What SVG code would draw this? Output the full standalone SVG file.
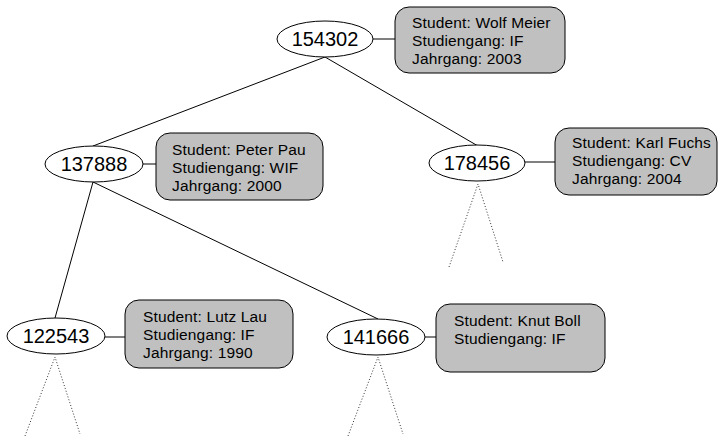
<svg xmlns="http://www.w3.org/2000/svg" width="720" height="439" viewBox="0 0 720 439">
<style>
.n ellipse{fill:#fff;stroke:#000;stroke-width:1}
.n text.k{font-family:"Liberation Sans",Arial,sans-serif;font-size:20px;text-anchor:middle}
.b{fill:#c0c0c0;stroke:#000;stroke-width:1}
.t{font-family:"Liberation Sans",Arial,sans-serif;font-size:15.5px;letter-spacing:0.15px;fill:#000}
.e{stroke:#000;stroke-width:1;fill:none}
.d{stroke:#333;stroke-width:1;fill:none;stroke-dasharray:1 2}
</style>
<rect width="720" height="439" fill="#fff"/>
<g id="connectors">
<line class="e" x1="325" y1="57" x2="93" y2="146"/>
<line class="e" x1="325" y1="57" x2="478" y2="146"/>
<line class="e" x1="93" y1="182" x2="55" y2="318"/>
<line class="e" x1="93" y1="182" x2="378" y2="319"/>
<line class="e" x1="373" y1="39" x2="395" y2="39"/>
<line class="e" x1="143" y1="164" x2="156" y2="164"/>
<line class="e" x1="525" y1="162" x2="555" y2="162"/>
<line class="e" x1="105" y1="337" x2="125" y2="337"/>
<line class="e" x1="425" y1="337" x2="436" y2="337"/>
<path class="d" d="M449,267 L478,184 L503,262"/>
<path class="d" d="M25,436 L55,357 L80,434"/>
<path class="d" d="M348,436 L378,357 L403,434"/>
</g>
<g id="n154302" class="n">
<ellipse cx="325" cy="39" rx="48" ry="18"/>
<text class="k" x="325" y="46">154302</text>
<rect class="b" x="395" y="7" width="170" height="66" rx="14"/>
<text class="t" x="412" y="27.5">Student: Wolf Meier</text>
<text class="t" x="412" y="45.5">Studiengang: IF</text>
<text class="t" x="412" y="63.5">Jahrgang: 2003</text>
</g>
<g id="n137888" class="n">
<ellipse cx="94" cy="164" rx="49" ry="18"/>
<text class="k" x="94" y="171">137888</text>
<rect class="b" x="156" y="133" width="167" height="67" rx="14"/>
<text class="t" x="172" y="155">Student: Peter Pau</text>
<text class="t" x="172" y="173">Studiengang: WIF</text>
<text class="t" x="172" y="191">Jahrgang: 2000</text>
</g>
<g id="n178456" class="n">
<ellipse cx="477" cy="163" rx="48" ry="18"/>
<text class="k" x="477" y="170">178456</text>
<rect class="b" x="555" y="128" width="162" height="67" rx="14"/>
<text class="t" x="572" y="147.5">Student: Karl Fuchs</text>
<text class="t" x="572" y="165.5">Studiengang: CV</text>
<text class="t" x="572" y="184">Jahrgang: 2004</text>
</g>
<g id="n122543" class="n">
<ellipse cx="56" cy="336" rx="49" ry="18"/>
<text class="k" x="56" y="343">122543</text>
<rect class="b" x="125" y="300" width="168" height="68" rx="14"/>
<text class="t" x="143" y="322">Student: Lutz Lau</text>
<text class="t" x="143" y="340">Studiengang: IF</text>
<text class="t" x="143" y="358">Jahrgang: 1990</text>
</g>
<g id="n141666" class="n">
<ellipse cx="376" cy="337" rx="49" ry="18"/>
<text class="k" x="376" y="344">141666</text>
<rect class="b" x="436" y="304" width="169" height="68" rx="14"/>
<text class="t" x="454" y="326">Student: Knut Boll</text>
<text class="t" x="454" y="344">Studiengang: IF</text>
</g>
</svg>
